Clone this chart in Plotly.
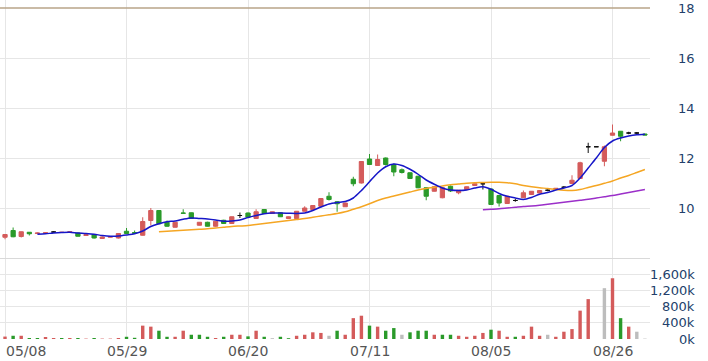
import plotly.graph_objects as go

# ---------------- data ----------------
tick_labels = ["05/08", "05/29", "06/20", "07/11", "08/05", "08/26"]
tick_index = [0, 15, 30, 45, 60, 75]

opens = [8.83, 9.10, 8.86, 9.03, 8.98, 8.99, 9.04, 9.02, 9.02, 9.00,
         8.90, 8.94, 8.78, 8.83, 8.80, 9.07, 9.02, 8.91, 9.50, 9.90,
         9.43, 9.23, 9.80, 9.81, 9.31, 9.43, 9.27, 9.51, 9.38, 9.70,
         9.80, 9.58, 9.94, 9.78, 9.81, 9.58, 9.58, 9.87, 9.94, 10.07,
         10.47, 10.25, 10.05, 11.15, 11.00, 11.96, 11.70, 12.00, 11.74, 11.53,
         11.41, 11.27, 10.81, 10.67, 10.41, 10.87, 10.61, 10.74, 10.90, 10.97,
         10.76, 10.50, 10.18, 10.30, 10.41, 10.54, 10.60, 10.71, 10.74, 10.83,
         10.98, 11.18, 12.45, 12.45, 11.87, 12.91, 13.07, 13.00, 13.00, 12.96]
highs = [8.95, 9.22, 9.06, 9.04, 9.02, 9.02, 9.07, 9.04, 9.06, 9.01,
         8.95, 8.96, 8.86, 8.87, 8.99, 9.20, 9.10, 9.63, 10.00, 9.92,
         9.50, 9.45, 9.95, 9.82, 9.44, 9.45, 9.48, 9.53, 9.66, 9.82,
         9.82, 9.95, 9.96, 9.86, 9.82, 9.66, 9.88, 10.07, 10.11, 10.39,
         10.63, 10.27, 10.21, 11.25, 11.87, 12.16, 12.14, 12.02, 11.78, 11.58,
         11.43, 11.29, 10.83, 10.88, 10.82, 10.90, 10.72, 10.86, 10.98, 10.98,
         10.78, 10.52, 10.48, 10.36, 10.70, 10.68, 10.71, 10.75, 10.80, 10.88,
         11.31, 11.85, 12.61, 12.45, 12.50, 13.34, 13.08, 13.05, 13.04, 12.97]
lows = [8.75, 8.83, 8.82, 8.90, 8.97, 8.98, 9.02, 9.00, 9.01, 8.86,
        8.89, 8.78, 8.77, 8.82, 8.78, 8.96, 8.97, 8.90, 9.30, 9.35,
        9.25, 9.22, 9.78, 9.57, 9.30, 9.26, 9.25, 9.37, 9.37, 9.60,
        9.62, 9.57, 9.77, 9.77, 9.64, 9.57, 9.57, 9.86, 9.93, 10.06,
        10.30, 9.85, 10.04, 10.87, 10.98, 11.72, 11.68, 11.70, 11.27, 11.38,
        11.16, 10.79, 10.31, 10.66, 10.39, 10.64, 10.55, 10.73, 10.89, 10.74,
        10.12, 10.06, 10.17, 10.25, 10.40, 10.53, 10.59, 10.67, 10.73, 10.79,
        10.97, 11.17, 12.20, 12.45, 11.67, 12.90, 12.67, 12.95, 12.96, 12.91]
closes = [8.94, 8.85, 9.05, 8.97, 9.00, 9.01, 9.04, 9.03, 9.05, 8.87,
          8.93, 8.80, 8.84, 8.86, 8.98, 8.98, 8.99, 9.46, 9.90, 9.37,
          9.27, 9.43, 9.79, 9.58, 9.43, 9.27, 9.47, 9.38, 9.65, 9.70,
          9.63, 9.85, 9.78, 9.85, 9.65, 9.65, 9.87, 10.00, 10.10, 10.38,
          10.34, 10.17, 10.20, 10.97, 11.86, 11.74, 11.94, 11.74, 11.44, 11.42,
          11.18, 10.81, 10.47, 10.85, 10.81, 10.68, 10.71, 10.85, 10.97, 10.97,
          10.14, 10.20, 10.47, 10.30, 10.61, 10.67, 10.70, 10.71, 10.79, 10.83,
          11.11, 11.81, 12.45, 12.45, 12.45, 13.00, 12.87, 13.00, 13.00, 12.92]

volumes_k = [60, 80, 80, 25, 25, 50, 25, 25, 25, 25,
             10, 25, 10, 10, 25, 55, 30, 330, 305, 205,
             55, 55, 205, 105, 105, 55, 25, 55, 105, 105,
             65, 205, 55, 20, 55, 20, 80, 105, 165, 150,
             80, 205, 105, 515, 575, 330, 305, 205, 270, 105,
             165, 205, 205, 105, 105, 105, 80, 55, 80, 150,
             230, 205, 55, 55, 80, 305, 80, 105, 55, 180,
             245, 700, 985, 0, 1255, 1500, 515, 305, 180, 10]
# u = up (red), d = down (green), n = unchanged (grey)
vol_dir = ["u", "d", "u", "d", "d", "u", "u", "d", "u", "d",
           "u", "d", "u", "u", "u", "d", "d", "u", "u", "d",
           "d", "u", "u", "d", "d", "d", "u", "d", "u", "u",
           "d", "u", "d", "n", "d", "d", "u", "u", "u", "u",
           "n", "d", "u", "u", "u", "d", "u", "d", "d", "n",
           "d", "d", "d", "u", "d", "d", "u", "u", "u", "u",
           "d", "u", "u", "d", "u", "u", "u", "n", "u", "u",
           "u", "u", "u", "n", "n", "u", "d", "u", "n", "n"]

ma5 = [None] * 4 + [
    8.95, 8.97, 9.00, 9.02, 9.03, 9.00, 8.98, 8.95, 8.90, 8.87,
    8.88, 8.92, 8.97, 9.08, 9.26, 9.37, 9.45, 9.48, 9.55, 9.60,
    9.58, 9.56, 9.52, 9.47, 9.48, 9.52, 9.62, 9.70, 9.77, 9.80,
    9.80, 9.79, 9.78, 9.80, 9.90, 10.04, 10.16, 10.22, 10.26, 10.40,
    10.70, 11.05, 11.40, 11.65, 11.76, 11.70, 11.55, 11.35, 11.12, 10.95,
    10.80, 10.72, 10.70, 10.72, 10.80, 10.85, 10.75, 10.58, 10.47, 10.40,
    10.34, 10.42, 10.55, 10.62, 10.72, 10.80, 10.90, 11.20, 11.60, 12.00,
    12.42, 12.68, 12.80, 12.88, 12.93, 12.95]
ma20 = [None] * 19 + [
    9.05, 9.07, 9.09, 9.11, 9.13, 9.15, 9.17, 9.20, 9.23, 9.26,
    9.28, 9.30, 9.34, 9.38, 9.42, 9.46, 9.50, 9.54, 9.58, 9.63,
    9.68, 9.73, 9.78, 9.85, 9.95, 10.05, 10.17, 10.30, 10.40, 10.48,
    10.56, 10.64, 10.72, 10.78, 10.83, 10.88, 10.93, 10.96, 10.99, 11.01,
    11.02, 11.03, 11.03, 11.01, 10.97, 10.90, 10.85, 10.81, 10.78, 10.74,
    10.71, 10.70, 10.74, 10.82, 10.90, 10.99, 11.08, 11.20, 11.30, 11.42,
    11.54]
ma60 = [None] * 59 + [
    9.93, 9.95, 9.97, 10.00, 10.03, 10.06, 10.08, 10.11, 10.15, 10.19,
    10.23, 10.27, 10.31, 10.35, 10.40, 10.45, 10.50, 10.56, 10.62, 10.68,
    10.74]

price_ticks = [10, 12, 14, 16, 18]
vol_ticks_k = [0, 400, 800, 1200, 1600]
vol_tick_labels = ["0k", "400k", "800k", "1,200k", "1,600k"]

# ---------------- style ----------------
RED = "#d45b5b"
GREEN = "#2a9a2a"
GREY = "#bdbdbd"
GRID = "#e6e6e6"
FONT = "DejaVu Sans"

n = len(closes)
idx = list(range(n))

fig = go.Figure()


def candle(sel, color, name):
    fig.add_trace(go.Candlestick(
        x=[idx[i] for i in sel],
        open=[opens[i] for i in sel], high=[highs[i] for i in sel],
        low=[lows[i] for i in sel], close=[closes[i] for i in sel],
        increasing=dict(line=dict(color=color, width=1), fillcolor=color),
        decreasing=dict(line=dict(color=color, width=1), fillcolor=color),
        xaxis="x", yaxis="y", name=name, showlegend=False, hoverinfo="skip"))


candle([i for i in idx if closes[i] > opens[i]], RED, "up")
candle([i for i in idx if closes[i] < opens[i]], GREEN, "down")
candle([i for i in idx if closes[i] == opens[i]], "#111111", "flat")

for ma, col in [(ma60, "#9b2fc9"), (ma20, "#f5a623"), (ma5, "#1616c8")]:
    fig.add_trace(go.Scatter(x=idx, y=ma, mode="lines",
                             line=dict(color=col, width=1.5, shape="spline", smoothing=0.8),
                             xaxis="x", yaxis="y", showlegend=False, hoverinfo="skip"))

dir_color = {"u": RED, "d": GREEN, "n": GREY}
fig.add_trace(go.Bar(x=idx, y=[v * 1000 for v in volumes_k],
                     marker=dict(color=[dir_color[d] for d in vol_dir], line=dict(width=0)),
                     width=0.42, xaxis="x2", yaxis="y2", showlegend=False, hoverinfo="skip"))

split = (339 - 258) / 339
axis_common = dict(showline=False, zeroline=False, ticks="", showticklabels=False)
fig.update_layout(
    width=708, height=361,
    margin=dict(l=0, r=58, t=0, b=22),
    paper_bgcolor="white", plot_bgcolor="white",
    boxgap=0.25,
    xaxis=dict(domain=[0, 1], range=[-0.62, 79.63], anchor="y", tickvals=tick_index,
               showgrid=True, gridcolor=GRID, gridwidth=1, rangeslider=dict(visible=False),
               **axis_common),
    xaxis2=dict(domain=[0, 1], range=[-0.62, 79.63], anchor="y2", matches="x",
                tickvals=tick_index, showgrid=True, gridcolor=GRID, gridwidth=1, **axis_common),
    yaxis=dict(domain=[split, 1], range=[8, 18.32], anchor="x", tickvals=[10, 12, 14, 16],
               showgrid=True, gridcolor=GRID, gridwidth=1, **axis_common),
    yaxis2=dict(domain=[0, split], range=[0, 2000000], anchor="x2",
                tickvals=[v * 1000 for v in vol_ticks_k[1:]],
                showgrid=True, gridcolor=GRID, gridwidth=1, **axis_common),
)

# top reference line at 18 and panel separator
fig.add_shape(type="line", xref="paper", x0=0, x1=1, yref="y", y0=18, y1=18,
              line=dict(color="#b8a488", width=1.5))
fig.add_shape(type="line", xref="paper", x0=0, x1=1, yref="y2", y0=2000000, y1=2000000,
              line=dict(color="#d9d9d9", width=2))

lab_x = 697 / 650
for v in price_ticks:
    fig.add_annotation(x=lab_x, xref="paper", y=v, yref="y", text=str(v), showarrow=False,
                       xanchor="right", yanchor="middle",
                       font=dict(family=FONT, size=13, color="#233f6b"))
for v, t in zip(vol_ticks_k, vol_tick_labels):
    fig.add_annotation(x=lab_x, xref="paper", y=v * 1000, yref="y2", text=t, showarrow=False,
                       xanchor="right", yanchor="middle",
                       font=dict(family=FONT, size=13, color="#233f6b"))
for k, (i, t) in enumerate(zip(tick_index, tick_labels)):
    fig.add_annotation(x=i, xref="x2", y=0, yref="paper", yshift=-12, text=t, showarrow=False,
                       xanchor="left" if k == 0 else "center", xshift=-1 if k == 0 else 0,
                       yanchor="middle", font=dict(family=FONT, size=14, color="#555555"))

fig.write_html("out.html",
               config={"displayModeBar": False, "staticPlot": True},
               post_script="document.body.style.margin='0';document.body.style.overflow='hidden';")
